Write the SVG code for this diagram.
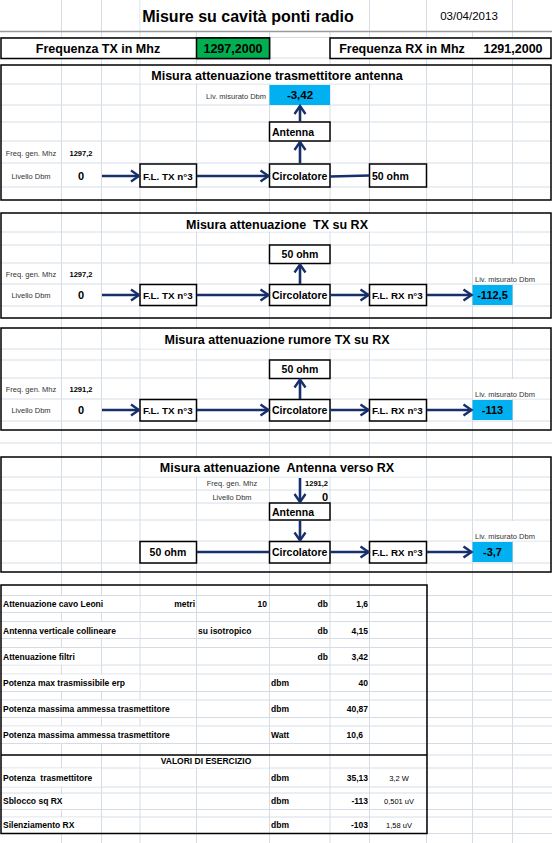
<svg xmlns="http://www.w3.org/2000/svg" width="552" height="843" viewBox="0 0 552 843">
<style>
text{font-family:"Liberation Sans",Arial,sans-serif;fill:#000}
.g{stroke:#d6dce6;stroke-width:1;fill:none}
.w{fill:#fff;stroke:none}
.bd{stroke:#000;stroke-width:1.5;fill:none}
.box{fill:#fff;stroke:#000;stroke-width:1.5}
.bl{font-weight:bold;font-size:10.5px}
.fl{font-weight:bold;font-size:9.8px}
.tt{font-weight:bold;font-size:12.5px;text-anchor:middle}
.sm{font-size:7.5px;fill:#333}
.smb{font-size:7.5px;font-weight:bold}
.tb{font-weight:bold;font-size:8.5px}
.c{text-anchor:middle}
.r{text-anchor:end}
.ar{stroke:#172f6b;stroke-width:2.6;fill:none}
.blue{fill:#00b0f0}
</style>
<defs>
<marker id="ah" markerUnits="userSpaceOnUse" markerWidth="12" markerHeight="14" refX="10" refY="7" orient="auto">
<path d="M2,1.5 L10,7 L2,12.5" fill="none" stroke="#172f6b" stroke-width="2.4"/>
</marker>
</defs>
<rect width="552" height="843" fill="#fff"/>
<g id="grid">
<path class="g" d="M61.5,0V843M101.5,0V843M140,0V843M196.5,0V843M269.5,0V843M330,0V843M369.5,0V843M426.5,0V843M472.5,0V843M512.5,0V843"/>
<path class="g" d="M0,37.5H552M0,58H552M0,84H552M0,105H552M0,122H552M0,141H552M0,163H552M0,187H552M0,232H552M0,245H552M0,263H552M0,284H552M0,306H552M0,349H552M0,360H552M0,378H552M0,399H552M0,421H552M0,443H552M0,477H552M0,490H552M0,503H552M0,520H552M0,541H552M0,563H552M0,595.5H552M0,612.5H552M0,621.5H552M0,638.5H552M0,647.5H552M0,665H552M0,674H552M0,691.5H552M0,700H552M0,717.5H552M0,726H552M0,743.5H552M427,755H552M0,768H552M0,787H552M0,793H552M0,809.5H552M0,817H552M427,833.5H552"/>
<rect class="w" x="140.5" y="0" width="228.5" height="30.5"/>
<rect class="w" x="427" y="0" width="85" height="30.5"/>
<rect class="w" x="140.5" y="66" width="285.5" height="17.5"/>
<rect class="w" x="140.5" y="214" width="285.5" height="17.5"/>
<rect class="w" x="140.5" y="329" width="285.5" height="19.5"/>
<rect class="w" x="140.5" y="458" width="285.5" height="18.5"/>
<rect class="w" x="473" y="264" width="78" height="19.5"/>
<rect class="w" x="473" y="379" width="78" height="19.5"/>
<rect class="w" x="473" y="521" width="78" height="19.5"/>
<rect class="w" x="1" y="596" width="138.5" height="16"/>
<rect class="w" x="1" y="622" width="138.5" height="16"/>
<rect class="w" x="1" y="648" width="100" height="16.5"/>
<rect class="w" x="1" y="674.5" width="138.5" height="16.5"/>
<rect class="w" x="1" y="700.5" width="195" height="16.5"/>
<rect class="w" x="1" y="726.5" width="195" height="16.5"/>
<rect class="w" x="140.5" y="756" width="128.5" height="11.5"/>
<rect class="w" x="1" y="768.5" width="100" height="18"/>
<rect class="w" x="1" y="794" width="100" height="15"/>
<rect class="w" x="1" y="817.5" width="100" height="15.5"/>
<line x1="0" y1="31.5" x2="552" y2="31.5" stroke="#9a9a9a" stroke-width="1.5"/>
</g>
<g id="header">
<text x="248" y="22" style="font-weight:bold;font-size:16px" text-anchor="middle">Misure su cavità ponti radio</text>
<text x="469" y="20" style="font-size:11.5px" text-anchor="middle">03/04/2013</text>
</g>
<g id="freq-tx">
<rect class="box" x="1" y="38" width="268.5" height="20.5"/>
<rect x="196.5" y="38" width="73" height="20.5" fill="#00b050" stroke="#000" stroke-width="1.5"/>
<text x="98" y="52.5" style="font-weight:bold;font-size:12.5px" text-anchor="middle">Frequenza TX in Mhz</text>
<text x="233" y="52.5" style="font-weight:bold;font-size:12.5px" text-anchor="middle">1297,2000</text>
</g>
<g id="freq-rx">
<rect class="box" x="330" y="38" width="221" height="20.5"/>
<text x="402" y="52.5" style="font-weight:bold;font-size:12.5px" text-anchor="middle">Frequenza RX in Mhz</text>
<text x="513" y="52.5" style="font-weight:bold;font-size:12.5px" text-anchor="middle">1291,2000</text>
</g>

<g id="section1">
<rect class="bd" x="1" y="65" width="550" height="135"/>
<text class="tt" x="277" y="80">Misura attenuazione trasmettitore antenna</text>
<text class="sm r" x="266" y="98.5">Liv. misurato Dbm</text>
<text class="sm c" x="31" y="156">Freq. gen. Mhz</text>
<text class="smb c" x="81" y="156">1297,2</text>
<text class="sm c" x="31" y="179">Livello Dbm</text>
<text class="c" x="81" y="179.5" style="font-weight:bold;font-size:11px">0</text>
</g>
<g id="s1-meas">
<rect class="blue" x="269.5" y="85" width="60.5" height="20"/>
<text class="c" x="300" y="99" style="font-weight:bold;font-size:11.5px">-3,42</text>
</g>
<g id="s1-antenna"><rect class="box" x="269.5" y="122" width="60.5" height="19"/><text class="bl" x="272" y="135.5">Antenna</text></g>
<g id="s1-fltx"><rect class="box" x="140" y="164" width="56.5" height="23"/><text class="fl" x="143" y="179.5">F.L. TX n°3</text></g>
<g id="s1-circ"><rect class="box" x="269.5" y="164" width="60.5" height="23"/><text class="bl" x="272" y="179.5">Circolatore</text></g>
<g id="s1-50ohm"><rect class="box" x="369.5" y="164" width="57" height="23"/><text class="bl" x="372" y="179.5">50 ohm</text></g>

<g id="section2">
<rect class="bd" x="1" y="213" width="550" height="105"/>
<text class="tt" x="277" y="228.5" xml:space="preserve">Misura attenuazione  TX su RX</text>
<text class="sm" x="475" y="282">Liv. misurato Dbm</text>
<text class="sm c" x="31" y="276.5">Freq. gen. Mhz</text>
<text class="smb c" x="81" y="276.5">1297,2</text>
<text class="sm c" x="31" y="298">Livello Dbm</text>
<text class="c" x="81" y="298.5" style="font-weight:bold;font-size:11px">0</text>
</g>
<g id="s2-50ohm"><rect class="box" x="269.5" y="245" width="60.5" height="18.5"/><text class="bl c" x="300" y="258">50 ohm</text></g>
<g id="s2-fltx"><rect class="box" x="140" y="284.5" width="56.5" height="21"/><text class="fl" x="143" y="299">F.L. TX n°3</text></g>
<g id="s2-circ"><rect class="box" x="269.5" y="284.5" width="60.5" height="21"/><text class="bl" x="272" y="299">Circolatore</text></g>
<g id="s2-flrx"><rect class="box" x="369.5" y="284.5" width="57" height="21"/><text class="fl" x="372" y="299">F.L. RX n°3</text></g>
<g id="s2-meas"><rect class="blue" x="472.5" y="285" width="40" height="20"/><text class="c" x="492.5" y="299" style="font-weight:bold;font-size:11px">-112,5</text></g>

<g id="section3">
<rect class="bd" x="1" y="328" width="550" height="102"/>
<text class="tt" x="277" y="344">Misura attenuazione rumore TX su RX</text>
<text class="sm" x="475" y="397">Liv. misurato Dbm</text>
<text class="sm c" x="31" y="391.5">Freq. gen. Mhz</text>
<text class="smb c" x="81" y="391.5">1291,2</text>
<text class="sm c" x="31" y="413">Livello Dbm</text>
<text class="c" x="81" y="413.5" style="font-weight:bold;font-size:11px">0</text>
</g>
<g id="s3-50ohm"><rect class="box" x="269.5" y="360" width="60.5" height="18.5"/><text class="bl c" x="300" y="373">50 ohm</text></g>
<g id="s3-fltx"><rect class="box" x="140" y="399.5" width="56.5" height="21.5"/><text class="fl" x="143" y="414">F.L. TX n°3</text></g>
<g id="s3-circ"><rect class="box" x="269.5" y="399.5" width="60.5" height="21.5"/><text class="bl" x="272" y="414">Circolatore</text></g>
<g id="s3-flrx"><rect class="box" x="369.5" y="399.5" width="57" height="21.5"/><text class="fl" x="372" y="414">F.L. RX n°3</text></g>
<g id="s3-meas"><rect class="blue" x="472.5" y="400" width="40" height="20"/><text class="c" x="492.5" y="414" style="font-weight:bold;font-size:11px">-113</text></g>

<g id="section4">
<rect class="bd" x="1" y="457" width="550" height="115"/>
<text class="tt" x="277" y="472" xml:space="preserve">Misura attenuazione  Antenna verso RX</text>
<text class="sm c" x="232" y="486">Freq. gen. Mhz</text>
<text class="smb r" x="328" y="486">1291,2</text>
<text class="sm c" x="232" y="500">Livello Dbm</text>
<text class="r" x="328" y="501" style="font-weight:bold;font-size:11px">0</text>
<text class="sm" x="475" y="539">Liv. misurato Dbm</text>
</g>
<g id="s4-antenna"><rect class="box" x="269.5" y="503" width="60.5" height="17"/><text class="bl" x="272" y="515.5">Antenna</text></g>
<g id="s4-50ohm"><rect class="box" x="140" y="541.5" width="56.5" height="21.5"/><text class="bl c" x="168" y="556">50 ohm</text></g>
<g id="s4-circ"><rect class="box" x="269.5" y="541.5" width="60.5" height="21.5"/><text class="bl" x="272" y="556">Circolatore</text></g>
<g id="s4-flrx"><rect class="box" x="369.5" y="541.5" width="57" height="21.5"/><text class="fl" x="372" y="556">F.L. RX n°3</text></g>
<g id="s4-meas"><rect class="blue" x="472.5" y="542" width="40" height="20"/><text class="c" x="492.5" y="556" style="font-weight:bold;font-size:11px">-3,7</text></g>

<g id="connectors">
<path class="ar" marker-end="url(#ah)" d="M102,176H139"/>
<path class="ar" marker-end="url(#ah)" d="M197,176H268.5"/>
<path class="ar" d="M330,176.5L369.5,175.5"/>
<path class="ar" marker-end="url(#ah)" d="M300,163V142"/>
<path class="ar" marker-end="url(#ah)" d="M300,121.5V106"/>
<path class="ar" marker-end="url(#ah)" d="M102,295H139"/>
<path class="ar" marker-end="url(#ah)" d="M197,295H268.5"/>
<path class="ar" marker-end="url(#ah)" d="M330.5,295H368.5"/>
<path class="ar" marker-end="url(#ah)" d="M427,295H471.5"/>
<path class="ar" marker-end="url(#ah)" d="M300,284V264.5"/>
<path class="ar" marker-end="url(#ah)" d="M102,410H139"/>
<path class="ar" marker-end="url(#ah)" d="M197,410H268.5"/>
<path class="ar" marker-end="url(#ah)" d="M330.5,410H368.5"/>
<path class="ar" marker-end="url(#ah)" d="M427,410H471.5"/>
<path class="ar" marker-end="url(#ah)" d="M300,399V379.5"/>
<path class="ar" marker-end="url(#ah)" d="M300,478V502"/>
<path class="ar" marker-end="url(#ah)" d="M300,520.5V540.5"/>
<path class="ar" d="M197,552H269.5"/>
<path class="ar" marker-end="url(#ah)" d="M330.5,552H368.5"/>
<path class="ar" marker-end="url(#ah)" d="M427,552H471.5"/>
</g>

<g id="table">
<path class="bd" d="M1,585H427V833.5H1ZM1,755H427"/>
<text class="tb" x="3" y="607">Attenuazione cavo Leoni</text>
<text class="tb r" x="195" y="607">metri</text>
<text class="tb r" x="267" y="607">10</text>
<text class="tb r" x="328" y="607">db</text>
<text class="tb r" x="368" y="607">1,6</text>
<text class="tb" x="3" y="633.5">Antenna verticale collineare</text>
<text class="tb" x="198" y="633.5">su isotropico</text>
<text class="tb r" x="328" y="633.5">db</text>
<text class="tb r" x="368" y="633.5">4,15</text>
<text class="tb" x="3" y="659.5">Attenuazione filtri</text>
<text class="tb r" x="328" y="659.5">db</text>
<text class="tb r" x="368" y="659.5">3,42</text>
<text class="tb" x="3" y="686">Potenza max trasmissibile erp</text>
<text class="tb" x="271" y="686">dbm</text>
<text class="tb r" x="368" y="686">40</text>
<text class="tb" x="3" y="712">Potenza massima ammessa trasmettitore</text>
<text class="tb" x="271" y="712">dbm</text>
<text class="tb r" x="368" y="712">40,87</text>
<text class="tb" x="3" y="738">Potenza massima ammessa trasmettitore</text>
<text class="tb" x="271" y="738">Watt</text>
<text class="tb r" x="363" y="738">10,6</text>
<text class="tb c" x="206" y="764">VALORI DI ESERCIZIO</text>
<text class="tb" x="3" y="781" xml:space="preserve">Potenza  trasmettitore</text>
<text class="tb" x="271" y="781">dbm</text>
<text class="tb r" x="368" y="781">35,13</text>
<text class="c" x="399" y="781" style="font-size:7.5px">3,2 W</text>
<text class="tb" x="3" y="804">Sblocco sq RX</text>
<text class="tb" x="271" y="804">dbm</text>
<text class="tb r" x="368" y="804">-113</text>
<text class="c" x="399" y="804" style="font-size:7.5px">0,501 uV</text>
<text class="tb" x="3" y="828">Silenziamento RX</text>
<text class="tb" x="271" y="828">dbm</text>
<text class="tb r" x="368" y="828">-103</text>
<text class="c" x="399" y="828" style="font-size:7.5px">1,58 uV</text>
</g>
</svg>
